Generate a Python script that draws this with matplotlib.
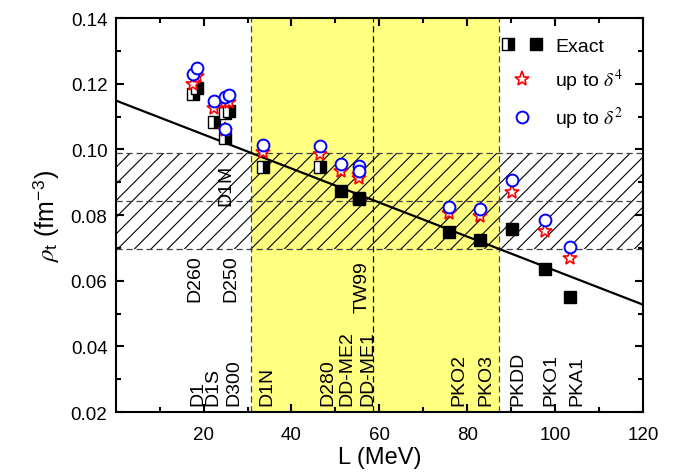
import matplotlib
matplotlib.use("Agg")
import matplotlib.pyplot as plt
from matplotlib.legend_handler import HandlerTuple
from matplotlib.lines import Line2D

plt.rcParams["font.family"] = ["Liberation Sans", "DejaVu Sans"]
plt.rcParams["mathtext.fontset"] = "stix"
plt.rcParams["hatch.linewidth"] = 0.8

# Gogny forces (half-filled squares)
gogny_names = ["D260", "D1", "D1S", "D1M", "D250", "D300", "D1N", "D280"]
gogny_L = [17.6, 18.4, 22.4, 24.8, 24.9, 25.8, 33.6, 46.5]
gogny_exact = [0.1168, 0.1186, 0.1084, 0.1036, 0.1112, 0.1116, 0.0947, 0.0947]
gogny_d4 = [0.1200, 0.1225, 0.1126, 0.1058, 0.1144, 0.1144, 0.0991, 0.0987]
gogny_d2 = [0.1230, 0.1247, 0.1146, 0.1063, 0.1160, 0.1166, 0.1013, 0.1010]

# RMF forces (filled squares)
rmf_names = ["DD-ME2", "DD-ME1", "TW99", "PKO2", "PKO3", "PKDD", "PKO1", "PKA1"]
rmf_L = [51.3, 55.4, 55.3, 75.9, 83.0, 90.2, 97.7, 103.5]
rmf_exact = [0.0874, 0.0852, 0.0848, 0.0749, 0.0725, 0.0759, 0.0636, 0.0552]
rmf_d4 = [0.0934, 0.0922, 0.0913, 0.0806, 0.0797, 0.0870, 0.0752, 0.0670]
rmf_d2 = [0.0957, 0.0948, 0.0934, 0.0826, 0.0819, 0.0906, 0.0786, 0.0704]

# linear fit
fit_intercept = 0.1149
fit_slope = -0.000518

# constraint bands
band_L = [30.8, 87.2]
band_L_mid = 58.5
band_rho = [0.0696, 0.0989]
band_rho_mid = 0.0843

# force name labels: (text, x, y bottom)
label_text = ["D260", "D250", "D1M", "TW99",
              "D1", "D1S", "D300", "D1N", "D280", "DD-ME2", "DD-ME1",
              "PKO2", "PKO3", "PKDD", "PKO1", "PKA1"]
label_x = [17.9, 26.1, 25.0, 56.2,
           18.6, 22.2, 27.0, 34.5, 48.2, 52.7, 57.3,
           78.2, 84.2, 91.5, 99.0, 105.0]
label_y = [0.0538, 0.0538, 0.0830, 0.0505,
           0.0222, 0.0222, 0.0222, 0.0222, 0.0222, 0.0222, 0.0222,
           0.0222, 0.0222, 0.0222, 0.0222, 0.0222]

fig = plt.figure(figsize=(6.89, 4.77), dpi=100)
ax = fig.add_axes([0.168, 0.134, 0.765, 0.826])

ax.axvspan(band_L[0], band_L[1], facecolor="#ffff80", edgecolor="none", zorder=0)
ax.axhspan(band_rho[0], band_rho[1], facecolor="none", edgecolor="k",
           hatch="//", linewidth=0, zorder=1)
for yv in band_rho + [band_rho_mid]:
    ax.axhline(yv, color="#444444", ls=(0, (5, 3)), lw=0.9, zorder=2)
for xv in band_L:
    ax.axvline(xv, color="#444444", ls=(0, (5, 3)), lw=0.9, zorder=2)
ax.axvline(band_L_mid, color="k", ls=(0, (5, 3)), lw=0.9, zorder=2)

xs = [0, 120]
ax.plot(xs, [fit_intercept + fit_slope * x for x in xs], color="k", lw=1.6, zorder=3)

sq = dict(marker="s", ms=8.5, ls="none", mec="k", mew=1.0, zorder=4)
ax.plot(gogny_L, gogny_exact, fillstyle="right", mfc="k", mfcalt="white", **sq)
ax.plot(rmf_L, rmf_exact, mfc="k", **sq)

all_L = gogny_L + rmf_L
ax.plot(all_L, gogny_d4 + rmf_d4, marker="*", ms=11, ls="none", mfc="white",
        mec="red", mew=1.2, zorder=5)
ax.plot(all_L, gogny_d2 + rmf_d2, marker="o", ms=8.5, ls="none", mfc="white",
        mec="blue", mew=1.4, zorder=6)

for t, x, y in zip(label_text, label_x, label_y):
    ax.text(x, y, t, rotation=90, ha="center", va="bottom", fontsize=14, zorder=7)

ax.set_xlim(0, 120)
ax.set_ylim(0.02, 0.14)
ax.set_xticks([20, 40, 60, 80, 100, 120])
ax.set_xticks(range(10, 120, 20), minor=True)
ax.set_yticks([0.02, 0.04, 0.06, 0.08, 0.10, 0.12, 0.14])
ax.set_yticks([0.03, 0.05, 0.07, 0.09, 0.11, 0.13], minor=True)
ax.yaxis.set_major_formatter(plt.FormatStrFormatter("%.2f"))
ax.tick_params(which="both", direction="in", top=True, right=True, labelsize=13.5, width=1.5)
ax.tick_params(which="major", length=6)
ax.tick_params(which="minor", length=3.5)
ax.tick_params(axis="x", which="major", pad=10)
ax.tick_params(axis="y", which="major", pad=6)
for s in ax.spines.values():
    s.set_linewidth(1.5)

ax.set_xlabel("L (MeV)", fontsize=17, labelpad=2)
ax.set_ylabel(r"$\rho_{\mathregular{t}}$ (fm$^{\mathregular{-3}}$)", fontsize=18, labelpad=6)

h_half = Line2D([], [], fillstyle="right", mfc="k", mfcalt="white", **sq)
h_full = Line2D([], [], mfc="k", **sq)
h_star = Line2D([], [], marker="*", ms=11, ls="none", mfc="white", mec="red", mew=1.2)
h_circ = Line2D([], [], marker="o", ms=8.5, ls="none", mfc="white", mec="blue", mew=1.4)
ax.legend([(h_half, h_full), h_star, h_circ],
          ["Exact", r"up to $\delta^4$", r"up to $\delta^2$"],
          handler_map={tuple: HandlerTuple(ndivide=None, pad=0.6)},
          loc="upper right", frameon=False, fontsize=14, handlelength=2.2,
          handletextpad=0.6, labelspacing=0.6, borderaxespad=0.6)

fig.savefig("out.png", dpi=100)
